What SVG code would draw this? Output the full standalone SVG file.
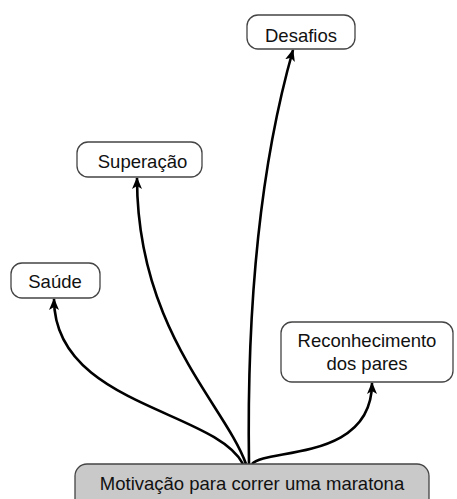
<svg xmlns="http://www.w3.org/2000/svg" width="457" height="499" viewBox="0 0 457 499">
<style>
.node rect{fill:#fff;stroke:#444;stroke-width:1.3}
.root rect{fill:#c9c9c9}
text{font-family:"Liberation Sans",Arial,sans-serif;font-size:18.5px;fill:#111;text-anchor:middle}
.edge{fill:none;stroke:#000;stroke-width:2.6;marker-end:url(#arr)}
</style>
<defs>
<marker id="arr" viewBox="0 0 12 10" refX="11" refY="5" markerWidth="12" markerHeight="10" markerUnits="userSpaceOnUse" orient="auto">
<path d="M0,0 L12,5 L0,10 L3,5 Z" fill="#000"/>
</marker>
</defs>
<g id="connectors">
<path class="edge" d="M243,464 C215,410 54,405 54,299"/>
<path class="edge" d="M246,464 C225,405 137,330 137,178"/>
<path class="edge" d="M249,464 C247,330 256,180 293,50"/>
<path class="edge" d="M252,464 C265,448 372,462 372,383"/>
</g>
<g id="root" class="node root">
<rect x="75" y="464" width="354" height="50" rx="12"/>
<text x="252" y="490">Motivação para correr uma maratona</text>
</g>
<g id="desafios" class="node">
<rect x="247" y="15" width="108" height="34" rx="11"/>
<text x="301" y="42">Desafios</text>
</g>
<g id="superacao" class="node">
<rect x="77" y="142" width="125" height="35" rx="11"/>
<text x="142.5" y="168">Superação</text>
</g>
<g id="saude" class="node">
<rect x="11" y="263" width="89" height="35" rx="11"/>
<text x="55" y="288">Saúde</text>
</g>
<g id="reconhecimento" class="node">
<rect x="281" y="322" width="172" height="60" rx="11"/>
<text x="367" y="347">Reconhecimento</text>
<text x="367" y="370">dos pares</text>
</g>
</svg>
